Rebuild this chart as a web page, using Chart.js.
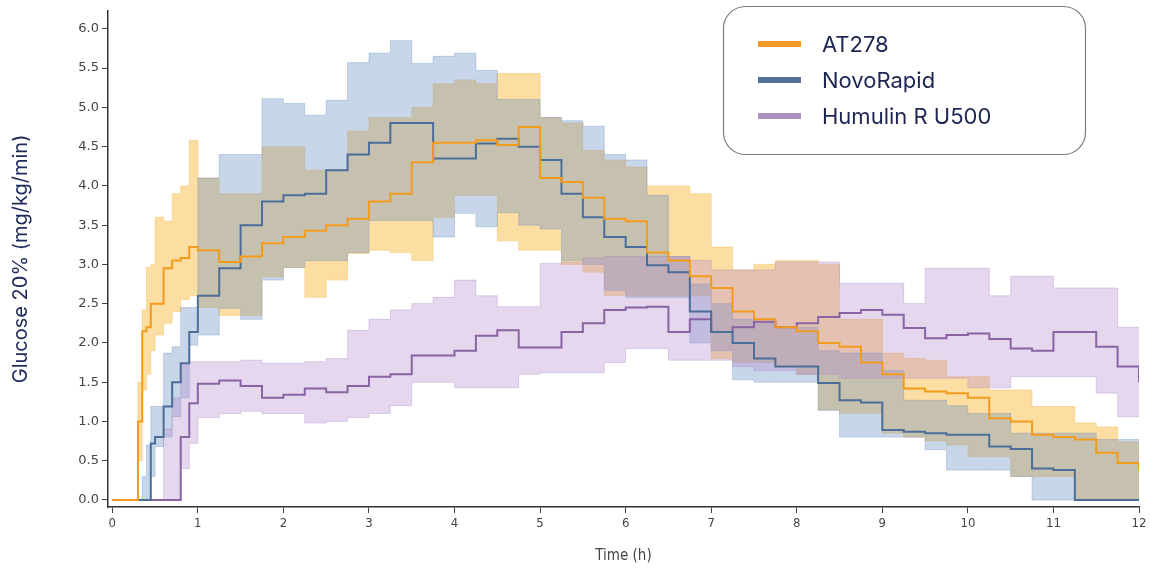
<!DOCTYPE html>
<html>
<head>
<meta charset="utf-8">
<script src="https://cdn.jsdelivr.net/npm/chart.js@4.4.1/dist/chart.umd.min.js"></script>
<style>
  html, body { margin: 0; padding: 0; background: #fff; }
  #wrap { width: 1150px; height: 570px; position: relative; }
</style>
</head>
<body>
<div id="wrap"><canvas id="chart"></canvas></div>
<script>
// time grid (h)
const times = [0, 0.25, 0.3, 0.35, 0.4, 0.45, 0.5, 0.6, 0.7, 0.8, 0.9,
  1, 1.25, 1.5, 1.75, 2, 2.25, 2.5, 2.75, 3, 3.25, 3.5, 3.75, 4, 4.25, 4.5, 4.75,
  5, 5.25, 5.5, 5.75, 6, 6.25, 6.5, 6.75, 7, 7.25, 7.5, 7.75, 8, 8.25, 8.5, 8.75,
  9, 9.25, 9.5, 9.75, 10, 10.25, 10.5, 10.75, 11, 11.25, 11.5, 11.75, 12];

// AT278
const at278Mean = [0, 0, 1.0, 2.15, 2.2, 2.5, 2.5, 2.95, 3.05, 3.08, 3.22,
  3.18, 3.03, 3.1, 3.27, 3.35, 3.43, 3.5, 3.58, 3.8, 3.9, 4.3, 4.55, 4.55, 4.58, 4.52, 4.75,
  4.1, 4.05, 3.85, 3.58, 3.55, 3.15, 3.05, 2.85, 2.7, 2.4, 2.3, 2.2, 2.15, 2.0, 1.95, 1.75,
  1.6, 1.42, 1.38, 1.36, 1.3, 1.04, 1.0, 0.83, 0.8, 0.77, 0.6, 0.47, 0.38];
const at278Lo = [0, 0, 0.5, 1.4, 1.6, 1.9, 2.1, 2.25, 2.4, 2.55, 2.6,
  2.45, 2.35, 2.35, 2.84, 2.96, 2.58, 2.8, 3.14, 3.18, 3.15, 3.05, 3.6, 3.88, 3.88, 3.3, 3.18,
  3.18, 3.0, 2.9, 2.6, 2.6, 2.6, 2.6, 2.6, 1.8, 1.75, 1.75, 1.7, 1.6, 1.15, 1.1, 1.1,
  0.85, 0.8, 0.75, 0.7, 0.55, 0.55, 0.3, 0.3, 0.3, 0, 0, 0, 0];
const at278Hi = [0, 0, 1.5, 2.42, 2.96, 3.0, 3.6, 3.55, 3.9, 4.0, 4.58,
  4.1, 3.9, 3.9, 4.5, 4.5, 4.2, 4.2, 4.7, 4.87, 4.87, 5.0, 5.3, 5.35, 5.3, 5.43, 5.43,
  4.87, 4.8, 4.45, 4.33, 4.24, 4.0, 4.0, 3.9, 3.22, 2.93, 3.0, 3.05, 3.05, 3.0, 2.3, 2.3,
  1.87, 1.8, 1.78, 1.57, 1.57, 1.4, 1.4, 1.19, 1.19, 0.98, 0.93, 0.74, 0.74];

// NovoRapid
const novoMean = [0, 0, 0, 0, 0, 0.72, 0.8, 1.19, 1.5, 1.74, 2.14,
  2.6, 2.95, 3.5, 3.8, 3.88, 3.9, 4.2, 4.4, 4.55, 4.8, 4.8, 4.35, 4.35, 4.54, 4.6, 4.5,
  4.33, 3.9, 3.6, 3.35, 3.22, 2.99, 2.9, 2.4, 2.14, 2.0, 1.8, 1.7, 1.7, 1.49, 1.27, 1.24,
  0.89, 0.87, 0.85, 0.83, 0.83, 0.68, 0.65, 0.4, 0.38, 0, 0, 0, 0];
const novoLo = [0, 0, 0, 0, 0, 0.3, 0.68, 0.8, 1.06, 1.3, 1.97,
  2.1, 2.44, 2.3, 2.8, 2.96, 3.05, 3.05, 3.15, 3.56, 3.56, 3.56, 3.35, 3.65, 3.48, 3.66, 3.5,
  3.45, 3.05, 3.0, 2.67, 2.58, 2.58, 2.58, 2.0, 1.9, 1.53, 1.5, 1.5, 1.5, 1.14, 0.8, 0.8,
  0.8, 0.8, 0.64, 0.38, 0.38, 0.38, 0.3, 0, 0, 0, 0, 0, 0];
const novoHi = [0, 0, 0, 0.3, 0.7, 1.19, 1.19, 1.87, 1.95, 2.45, 2.45,
  4.1, 4.4, 4.4, 5.11, 5.05, 4.9, 5.09, 5.57, 5.69, 5.85, 5.56, 5.65, 5.69, 5.47, 5.1, 5.1,
  4.87, 4.83, 4.76, 4.4, 4.33, 3.88, 3.1, 2.75, 2.5, 2.3, 2.25, 2.2, 2.2, 1.9, 1.87, 1.87,
  1.65, 1.27, 1.27, 1.2, 1.1, 1.1, 0.85, 0.85, 0.85, 0.85, 0.77, 0.77, 0.77];

// Humulin R U500
const humMean = [0, 0, 0, 0, 0, 0, 0, 0, 0, 0.8, 1.23,
  1.48, 1.52, 1.45, 1.3, 1.34, 1.42, 1.37, 1.45, 1.57, 1.6, 1.84, 1.84, 1.9, 2.09, 2.16, 1.94,
  1.94, 2.14, 2.25, 2.42, 2.45, 2.46, 2.14, 2.3, 2.14, 2.2, 2.27, 2.2, 2.25, 2.33, 2.38, 2.42,
  2.36, 2.19, 2.06, 2.1, 2.12, 2.05, 1.93, 1.9, 2.14, 2.14, 1.95, 1.7, 1.5];
const humLo = [0, 0, 0, 0, 0, 0, 0, 0, 0, 0.4, 0.72,
  1.05, 1.1, 1.13, 1.1, 1.1, 0.98, 1.0, 1.05, 1.1, 1.2, 1.5, 1.5, 1.43, 1.43, 1.43, 1.6,
  1.62, 1.62, 1.62, 1.75, 1.93, 1.93, 1.78, 1.78, 1.78, 1.7, 1.65, 1.65, 1.6, 1.6, 1.55, 1.55,
  1.55, 1.55, 1.55, 1.55, 1.43, 1.43, 1.57, 1.57, 1.57, 1.57, 1.36, 1.06, 1.06];
const humHi = [0, 0, 0, 0, 0, 0, 0, 0.9, 1.3, 1.74, 1.76,
  1.76, 1.76, 1.78, 1.74, 1.74, 1.76, 1.8, 2.16, 2.3, 2.42, 2.5, 2.58, 2.8, 2.6, 2.46, 2.46,
  3.01, 3.03, 3.08, 3.1, 3.1, 3.1, 3.1, 3.05, 2.93, 2.93, 2.93, 3.03, 3.03, 3.03, 2.76, 2.76,
  2.76, 2.5, 2.95, 2.95, 2.95, 2.6, 2.85, 2.85, 2.7, 2.7, 2.7, 2.2, 2.2];

const xTicks = [0, 1, 2, 3, 4, 5, 6, 7, 8, 9, 10, 11, 12];
const yTicks = [0, 0.5, 1, 1.5, 2, 2.5, 3, 3.5, 4, 4.5, 5, 5.5, 6];

const pts = (vals) => vals.map((v, i) => ({ x: times[i], y: v }));

const lineDs = (label, vals, color, order) => ({
  label: label,
  data: pts(vals),
  borderColor: color,
  backgroundColor: color,
  borderWidth: 2,
  pointRadius: 0,
  stepped: true,
  fill: false,
  order: order,
});

const bandDs = (label, vals, fill, edge, order) => ({
  label: label,
  data: pts(vals),
  borderColor: edge,
  backgroundColor: fill,
  borderWidth: 1,
  pointRadius: 0,
  stepped: true,
  order: order,
});

const datasets = [
  lineDs("AT278", at278Mean, "#f39c1c", 1),
  lineDs("NovoRapid", novoMean, "#4b6d98", 2),
  lineDs("Humulin R U500", humMean, "#8a63a3", 3),
  Object.assign(bandDs("AT278 hi", at278Hi, "rgba(252,190,70,0.5)", "rgba(240,175,60,0.35)", 30), { fill: "+1" }),
  Object.assign(bandDs("AT278 lo", at278Lo, "rgba(252,190,70,0.5)", "rgba(240,175,60,0.35)", 30), { fill: false }),
  Object.assign(bandDs("NovoRapid hi", novoHi, "rgba(105,145,198,0.37)", "rgba(90,130,185,0.3)", 20), { fill: "+1" }),
  Object.assign(bandDs("NovoRapid lo", novoLo, "rgba(105,145,198,0.37)", "rgba(90,130,185,0.3)", 20), { fill: false }),
  Object.assign(bandDs("Humulin hi", humHi, "rgba(180,140,205,0.35)", "rgba(160,120,190,0.3)", 10), { fill: "+1" }),
  Object.assign(bandDs("Humulin lo", humLo, "rgba(180,140,205,0.35)", "rgba(160,120,190,0.3)", 10), { fill: false }),
];

// swatch colours for the boxed legend
const legendColors = ["#f39a26", "#55729a", "#ad92c0"];

const boxLegend = {
  id: "boxLegend",
  afterDraw(chart) {
    const ctx = chart.ctx;
    ctx.save();
    ctx.beginPath();
    ctx.roundRect(723.5, 6.5, 362, 148, 22);
    ctx.fillStyle = "#fff";
    ctx.fill();
    ctx.strokeStyle = "#7c7c7c";
    ctx.lineWidth = 1.2;
    ctx.stroke();
    ctx.font = "22px Inter, 'Noto Sans', sans-serif";
    ctx.textBaseline = "middle";
    for (let i = 0; i < 3; i++) {
      const y = 44 + i * 36;
      ctx.fillStyle = legendColors[i];
      ctx.fillRect(758, y - 3, 43, 6);
      ctx.fillStyle = "#1d2552";
      ctx.fillText(chart.data.datasets[i].label, 822, y + 1);
    }
    ctx.restore();
  },
};

new Chart(document.getElementById("chart"), {
  type: "line",
  data: { datasets: datasets },
  plugins: [boxLegend],
  options: {
    responsive: true,
    maintainAspectRatio: false,
    animation: false,
    layout: { padding: { top: 10, right: 11, left: 0, bottom: 0 } },
    plugins: {
      legend: { display: false },
      tooltip: { enabled: false },
    },
    scales: {
      x: {
        type: "linear",
        min: -0.05,
        max: 12,
        afterBuildTicks: (scale) => { scale.ticks = xTicks.map((v) => ({ value: v })); },
        afterFit: (scale) => { scale.height = 63; },
        grid: { display: true, drawOnChartArea: false, drawTicks: true, tickLength: 6, color: "#444" },
        border: { display: true, color: "#333", width: 1.5 },
        ticks: {
          padding: 3,
          color: "#444",
          font: { family: "'DejaVu Sans Condensed', 'DejaVu Sans', sans-serif", size: 13 },
          callback: (v) => v,
        },
        title: {
          display: true,
          text: "Time (h)",
          color: "#444",
          font: { family: "'DejaVu Sans Condensed', 'DejaVu Sans', sans-serif", size: 15 },
          padding: { top: 0, bottom: 5 },
        },
      },
      y: {
        type: "linear",
        min: -0.09,
        max: 6.23,
        afterBuildTicks: (scale) => { scale.ticks = yTicks.map((v) => ({ value: v })); },
        afterFit: (scale) => { scale.width = 108; },
        grid: { display: true, drawOnChartArea: false, drawTicks: true, tickLength: 6, color: "#444" },
        border: { display: true, color: "#333", width: 1.5 },
        ticks: {
          padding: 3,
          color: "#444",
          font: { family: "'DejaVu Sans', sans-serif", size: 13 },
          callback: (v) => v.toFixed(1),
        },
        title: {
          display: true,
          text: "Glucose 20% (mg/kg/min)",
          color: "#1f2a5c",
          font: { family: "Inter, 'Noto Sans', sans-serif", size: 20 },
          padding: { top: 9, bottom: 0 },
        },
      },
    },
  },
});
</script>
</body>
</html>
